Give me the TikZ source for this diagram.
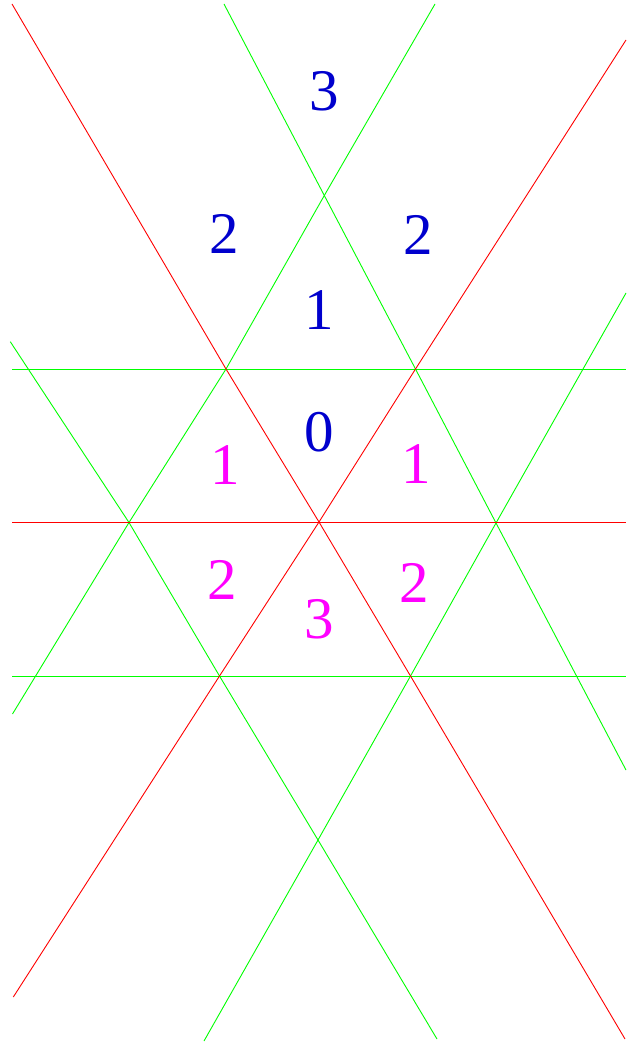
\documentclass[tikz,border=0pt]{standalone}
\usepackage{fontspec}
\setmainfont{Liberation Serif}
\definecolor{lgreen}{RGB}{0,255,0}
\definecolor{lred}{RGB}{255,0,0}
\definecolor{lblue}{RGB}{0,0,205}
\definecolor{lmag}{RGB}{255,0,255}
\tikzset{
  redline/.style={draw=lred, line width=0.9pt},
  greenline/.style={draw=lgreen, line width=0.9pt},
  lab/.style={inner sep=0pt, anchor=center, font=\fontsize{59}{59}\selectfont},
  bluelab/.style={lab, text=lblue},
  maglab/.style={lab, text=lmag}
}
\begin{document}
\begin{tikzpicture}[x=1pt,y=-1pt]
\useasboundingbox (0,0) rectangle (626,1046);
% lattice points
\coordinate (C)  at (319,522);
\coordinate (T)  at (324.3,195.5);
\coordinate (P1) at (226,369);
\coordinate (P2) at (415.5,369);
\coordinate (L)  at (129,522.5);
\coordinate (R)  at (496,523);
\coordinate (P3) at (219.5,676);
\coordinate (P4) at (410.5,676);
\coordinate (B)  at (318,840);
% free ends
\coordinate (a1) at (12,4);
\coordinate (a2) at (625,1039);
\coordinate (b1) at (13.3,997);
\coordinate (b2) at (626,40);
\coordinate (h1) at (12,522);
\coordinate (h2) at (626,522);
\coordinate (u1) at (12,369);
\coordinate (u2) at (626,369);
\coordinate (d1) at (12,676);
\coordinate (d2) at (626,676);
\coordinate (g1a) at (224,4);
\coordinate (g1b) at (626,770);
\coordinate (g2a) at (435,4);
\coordinate (g2b) at (12.5,714);
\coordinate (g3a) at (10.3,341.7);
\coordinate (g3b) at (437,1039);
\coordinate (g4a) at (626,293);
\coordinate (g4b) at (204,1041);
% green lines
\draw[greenline] (u1) -- (u2);
\draw[greenline] (d1) -- (d2);
\draw[greenline] (g1a) -- (T) -- (P2) -- (R) -- (g1b);
\draw[greenline] (g2a) -- (T) -- (P1) -- (L) -- (g2b);
\draw[greenline] (g3a) -- (L) -- (P3) -- (B) -- (g3b);
\draw[greenline] (g4a) -- (R) -- (P4) -- (B) -- (g4b);
% red lines
\draw[redline] (h1) -- (h2);
\draw[redline] (a1) -- (P1) -- (C) -- (P4) -- (a2);
\draw[redline] (b1) -- (P3) -- (C) -- (P2) -- (b2);
% labels
\node[bluelab] (n3)  at (324,91)    {3};
\node[bluelab] (n2l) at (224,234)   {2};
\node[bluelab] (n2r) at (418.3,234.5) {2};
\node[bluelab] (n1)  at (319.7,310) {1};
\node[bluelab] (n0)  at (319.3,432) {0};
\node[maglab] (m1l) at (225.5,465.3) {1};
\node[maglab] (m1r) at (416.5,464)   {1};
\node[maglab] (m2l) at (222.7,580.3) {2};
\node[maglab] (m2r) at (414.7,582.7) {2};
\node[maglab] (m3)  at (319,619)     {3};
\end{tikzpicture}
\end{document}
